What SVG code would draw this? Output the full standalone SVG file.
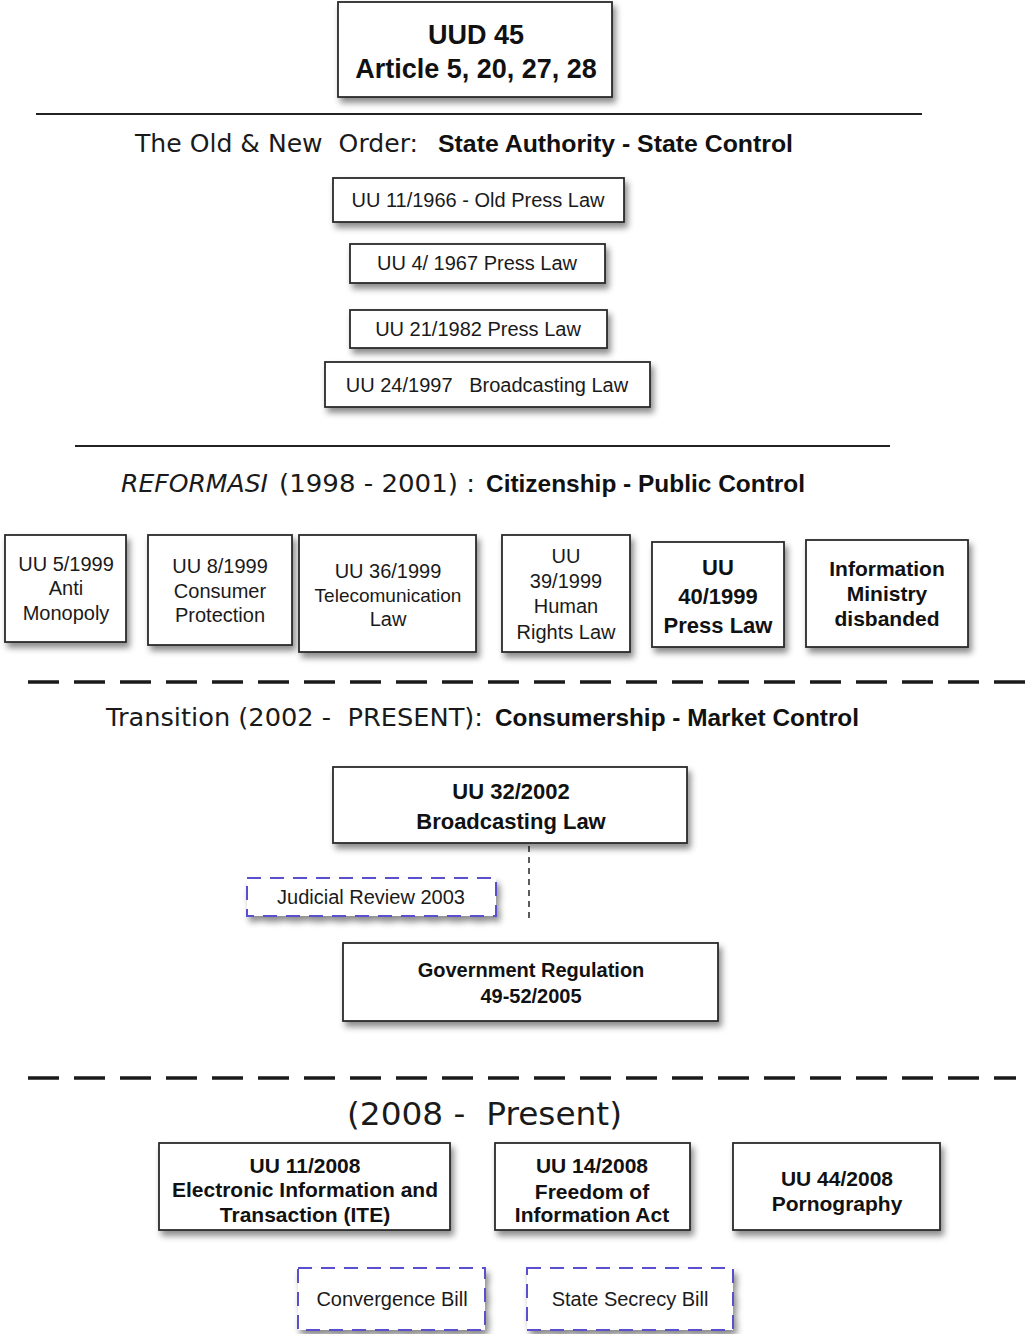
<svg xmlns="http://www.w3.org/2000/svg" width="1027" height="1334" viewBox="0 0 1027 1334">
  <defs>
    <filter id="shadow" x="-10%" y="-20%" width="125%" height="160%">
      <feDropShadow dx="3" dy="5" stdDeviation="3" flood-color="#000" flood-opacity="0.45"/>
    </filter>
    <style>
      .box { fill: #fff; stroke: #2b2b2b; stroke-width: 1.8; filter: url(#shadow); }
      .draft { fill: #fff; stroke: #5a4fcc; stroke-width: 2; stroke-dasharray: 14 9; filter: url(#shadow); }
      .t { font-family: "Liberation Sans", Arial, sans-serif; font-size: 20px; fill: #1a1a1a; text-anchor: middle; }
      .b { font-family: "Liberation Sans", Arial, sans-serif; font-size: 21px; font-weight: bold; fill: #111; text-anchor: middle; }
      .h { font-family: "DejaVu Sans", Verdana, sans-serif; font-size: 24px; fill: #1a1a1a; }
      .hb { font-family: "Liberation Sans", Arial, sans-serif; font-size: 24px; font-weight: bold; fill: #111; }
      .rule { stroke: #222; stroke-width: 2; }
      .split { stroke: #1a1a1a; stroke-width: 3.5; stroke-dasharray: 31 15; }
    </style>
  </defs>

  <rect width="1027" height="1334" fill="#fff"/>

  <!-- constitution -->
  <g id="uud45">
    <rect class="box" x="338" y="2" width="274" height="95"/>
    <text class="b" x="476" y="44" style="font-size:27px">UUD 45</text>
    <text class="b" x="476" y="78" style="font-size:27px">Article 5, 20, 27, 28</text>
  </g>

  <!-- section rules and headings -->
  <line class="rule" x1="36" y1="114" x2="922" y2="114"/>
  <g id="heading-old-order">
    <text class="h" x="135" y="152" textLength="283" lengthAdjust="spacingAndGlyphs" xml:space="preserve">The Old &amp; New  Order:</text>
    <text class="hb" x="438" y="152" textLength="355" lengthAdjust="spacingAndGlyphs">State Authority - State Control</text>
  </g>

  <g id="uu11-1966">
    <rect class="box" x="333" y="178" width="291" height="44"/>
    <text class="t" x="478" y="207">UU 11/1966 - Old Press Law</text>
  </g>
  <g id="uu4-1967">
    <rect class="box" x="350" y="244" width="255" height="39"/>
    <text class="t" x="477" y="270">UU 4/ 1967 Press Law</text>
  </g>
  <g id="uu21-1982">
    <rect class="box" x="350" y="310" width="257" height="38"/>
    <text class="t" x="478" y="336">UU 21/1982 Press Law</text>
  </g>
  <g id="uu24-1997">
    <rect class="box" x="325" y="362" width="325" height="45"/>
    <text class="t" x="487" y="392" xml:space="preserve">UU 24/1997   Broadcasting Law</text>
  </g>

  <line class="rule" x1="75" y1="446" x2="890" y2="446"/>
  <g id="heading-reformasi">
    <text class="h" x="121" y="492" style="font-style:italic" textLength="147" lengthAdjust="spacingAndGlyphs">REFORMASI</text>
    <text class="h" x="279" y="492" textLength="196" lengthAdjust="spacingAndGlyphs">(1998 - 2001) :</text>
    <text class="hb" x="486" y="492" textLength="319" lengthAdjust="spacingAndGlyphs">Citizenship - Public Control</text>
  </g>

  <g id="uu5-1999">
    <rect class="box" x="5" y="535" width="121" height="107"/>
    <text class="t" x="66" y="571">UU 5/1999</text>
    <text class="t" x="66" y="595">Anti</text>
    <text class="t" x="66" y="620">Monopoly</text>
  </g>
  <g id="uu8-1999">
    <rect class="box" x="148" y="535" width="144" height="110"/>
    <text class="t" x="220" y="573">UU 8/1999</text>
    <text class="t" x="220" y="598">Consumer</text>
    <text class="t" x="220" y="622">Protection</text>
  </g>
  <g id="uu36-1999">
    <rect class="box" x="299" y="535" width="177" height="117"/>
    <text class="t" x="388" y="578">UU 36/1999</text>
    <text class="t" x="388" y="602" style="font-size:19px">Telecomunication</text>
    <text class="t" x="388" y="626">Law</text>
  </g>
  <g id="uu39-1999">
    <rect class="box" x="502" y="535" width="128" height="117"/>
    <text class="t" x="566" y="563">UU</text>
    <text class="t" x="566" y="588">39/1999</text>
    <text class="t" x="566" y="613">Human</text>
    <text class="t" x="566" y="639">Rights Law</text>
  </g>
  <g id="uu40-1999">
    <rect class="box" x="652" y="542" width="132" height="105"/>
    <text class="b" x="718" y="575" style="font-size:22px">UU</text>
    <text class="b" x="718" y="604" style="font-size:22px">40/1999</text>
    <text class="b" x="718" y="633" style="font-size:22px">Press Law</text>
  </g>
  <g id="information-ministry">
    <rect class="box" x="806" y="540" width="162" height="107"/>
    <text class="b" x="887" y="576">Information</text>
    <text class="b" x="887" y="601">Ministry</text>
    <text class="b" x="887" y="626">disbanded</text>
  </g>

  <line class="split" x1="28" y1="682" x2="1027" y2="682"/>
  <g id="heading-transition">
    <text class="h" x="106" y="726" textLength="377" lengthAdjust="spacingAndGlyphs" xml:space="preserve">Transition (2002 -  PRESENT):</text>
    <text class="hb" x="495" y="726" textLength="364" lengthAdjust="spacingAndGlyphs">Consumership - Market Control</text>
  </g>

  <!-- connectors -->
  <g id="connectors">
    <line x1="529" y1="846" x2="529" y2="923" stroke="#333" stroke-width="1.6" stroke-dasharray="6 5"/>
  </g>

  <g id="uu32-2002">
    <rect class="box" x="333" y="767" width="354" height="76"/>
    <text class="b" x="511" y="799" style="font-size:22px">UU 32/2002</text>
    <text class="b" x="511" y="829" style="font-size:22px">Broadcasting Law</text>
  </g>
  <g id="judicial-review">
    <rect class="draft" x="247" y="878" width="249" height="38"/>
    <text class="t" x="371" y="904">Judicial Review 2003</text>
  </g>
  <g id="government-regulation">
    <rect class="box" x="343" y="943" width="375" height="78"/>
    <text class="b" x="531" y="977" style="font-size:20px">Government Regulation</text>
    <text class="b" x="531" y="1003" style="font-size:20px">49-52/2005</text>
  </g>

  <line class="split" x1="28" y1="1078" x2="1016" y2="1078"/>
  <g id="heading-2008">
    <text class="h" x="347" y="1125" style="font-size:32px" textLength="275" lengthAdjust="spacingAndGlyphs" xml:space="preserve">(2008 -  Present)</text>
  </g>

  <g id="uu11-2008">
    <rect class="box" x="159" y="1143" width="291" height="87"/>
    <text class="b" x="305" y="1173">UU 11/2008</text>
    <text class="b" x="305" y="1197">Electronic Information and</text>
    <text class="b" x="305" y="1222">Transaction (ITE)</text>
  </g>
  <g id="uu14-2008">
    <rect class="box" x="495" y="1143" width="195" height="87"/>
    <text class="b" x="592" y="1173">UU 14/2008</text>
    <text class="b" x="592" y="1199">Freedom of</text>
    <text class="b" x="592" y="1222">Information Act</text>
  </g>
  <g id="uu44-2008">
    <rect class="box" x="733" y="1143" width="207" height="87"/>
    <text class="b" x="837" y="1186">UU 44/2008</text>
    <text class="b" x="837" y="1211">Pornography</text>
  </g>

  <g id="convergence-bill">
    <rect class="draft" x="298" y="1268" width="187" height="62"/>
    <text class="t" x="392" y="1306">Convergence Bill</text>
  </g>
  <g id="state-secrecy-bill">
    <rect class="draft" x="527" y="1268" width="206" height="62"/>
    <text class="t" x="630" y="1306">State Secrecy Bill</text>
  </g>
</svg>
